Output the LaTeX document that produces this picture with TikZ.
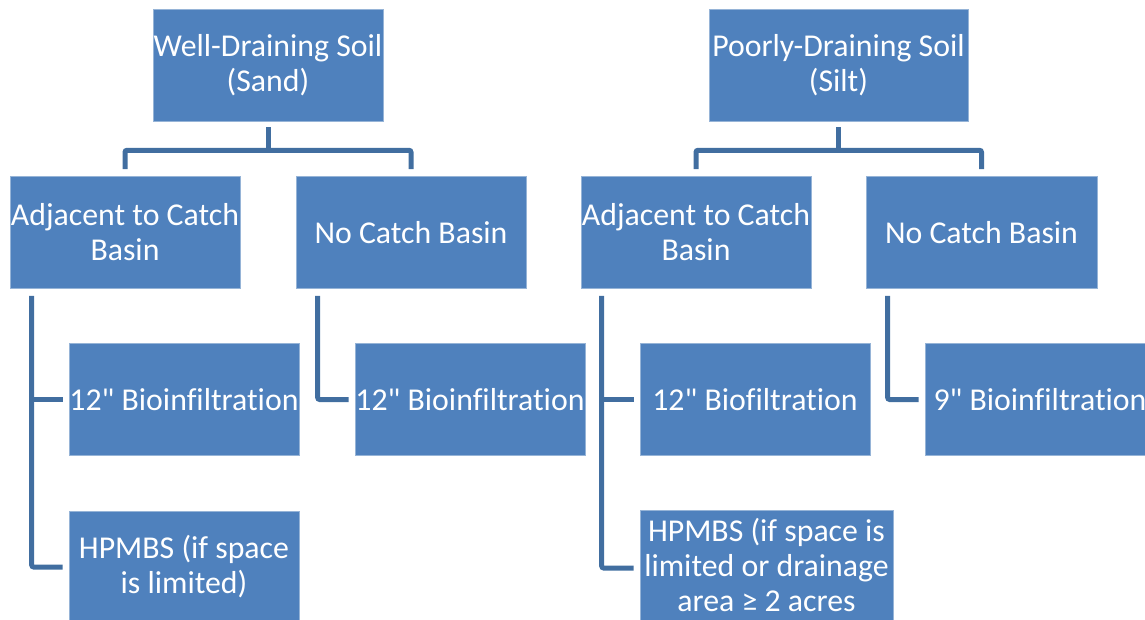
\documentclass[tikz,border=0pt]{standalone}
\usepackage{fontspec}
\newfontfamily\calfont{Carlito}[Ligatures=NoCommon]
\definecolor{boxblue}{RGB}{79,129,189}
\definecolor{boxedge}{RGB}{150,180,215}
\definecolor{linkblue}{RGB}{65,110,160}
\tikzset{
  box/.style={rectangle, fill=boxblue, draw=boxedge, line width=0.6pt,
    inner sep=0pt, align=center, text=white,
    font=\calfont\fontsize{31.8}{35}\selectfont},
  conn/.style={draw=linkblue, line width=5pt, rounded corners=2pt}
}
\begin{document}
\begin{tikzpicture}[x=1pt,y=-1pt]
\useasboundingbox (0,0) rectangle (1145,620);
\begin{scope}
\clip (0,0) rectangle (1145,620);
% level 1
\node[box, minimum width=230pt, minimum height=112pt] (tl) at (268,65) {Well-Draining Soil\\(Sand)};
\node[box, minimum width=259pt, minimum height=112pt] (tr) at (838.5,65) {Poorly-Draining Soil\\(Silt)};
% level 2
\node[box, minimum width=230pt, minimum height=112pt] (a1) at (125,232.5) {Adjacent to Catch\\Basin};
\node[box, minimum width=230pt, minimum height=112pt] (n1) at (411,232.5) {No Catch Basin};
\node[box, minimum width=230pt, minimum height=112pt] (a2) at (696,232.5) {Adjacent to Catch\\Basin};
\node[box, minimum width=231pt, minimum height=112pt] (n2) at (981.5,232.5) {No Catch Basin};
% level 3
\node[box, minimum width=230pt, minimum height=112pt] (b1) at (184,399.5) {12" Bioinfiltration};
\node[box, minimum width=230pt, minimum height=112pt] (b2) at (470,399.5) {12" Bioinfiltration};
\node[box, minimum width=230pt, minimum height=112pt] (b3) at (755,399.5) {12" Biofiltration};
\node[box, minimum width=230pt, minimum height=112pt] (b4) at (1040,399.5) {9" Bioinfiltration};
% level 4
\node[box, minimum width=230pt, minimum height=112pt] (h1) at (184,567) {HPMBS (if space\\is limited)};
\node[box, minimum width=253pt, minimum height=116pt] (h2) at (766.5,568) {};
\node[font=\calfont\fontsize{31.8}{35}\selectfont, text=white, align=center, inner sep=0pt] (h2t) at (766.5,565) {HPMBS (if space is\\limited or drainage\\area ≥ 2 acres};
% connectors: top trees
\draw[conn] ([yshift=-6pt]tl.south) -- ([yshift=-29pt]tl.south);
\draw[conn] ([yshift=7pt]a1.north) |- ([yshift=-29pt]tl.south) -| ([yshift=7pt]n1.north);
\draw[conn] ([yshift=-6pt]tr.south) -- ([yshift=-29pt]tr.south);
\draw[conn] ([yshift=7pt]a2.north) |- ([yshift=-29pt]tr.south) -| ([yshift=7pt]n2.north);
% connectors: side branches
\coordinate (a1s) at ([xshift=22pt,yshift=-7pt]a1.south west);
\draw[conn] (a1s) |- ([xshift=-6pt]h1.west);
\draw[conn] (a1s |- b1.west) -- ([xshift=-6pt]b1.west);
\coordinate (n1s) at ([xshift=22pt,yshift=-7pt]n1.south west);
\draw[conn] (n1s) |- ([xshift=-6pt]b2.west);
\coordinate (a2s) at ([xshift=21pt,yshift=-7pt]a2.south west);
\draw[conn] (a2s) |- ([xshift=-6pt]h2.west);
\draw[conn] (a2s |- b3.west) -- ([xshift=-6pt]b3.west);
\coordinate (n2s) at ([xshift=22pt,yshift=-7pt]n2.south west);
\draw[conn] (n2s) |- ([xshift=-6pt]b4.west);
\end{scope}
\end{tikzpicture}
\end{document}
